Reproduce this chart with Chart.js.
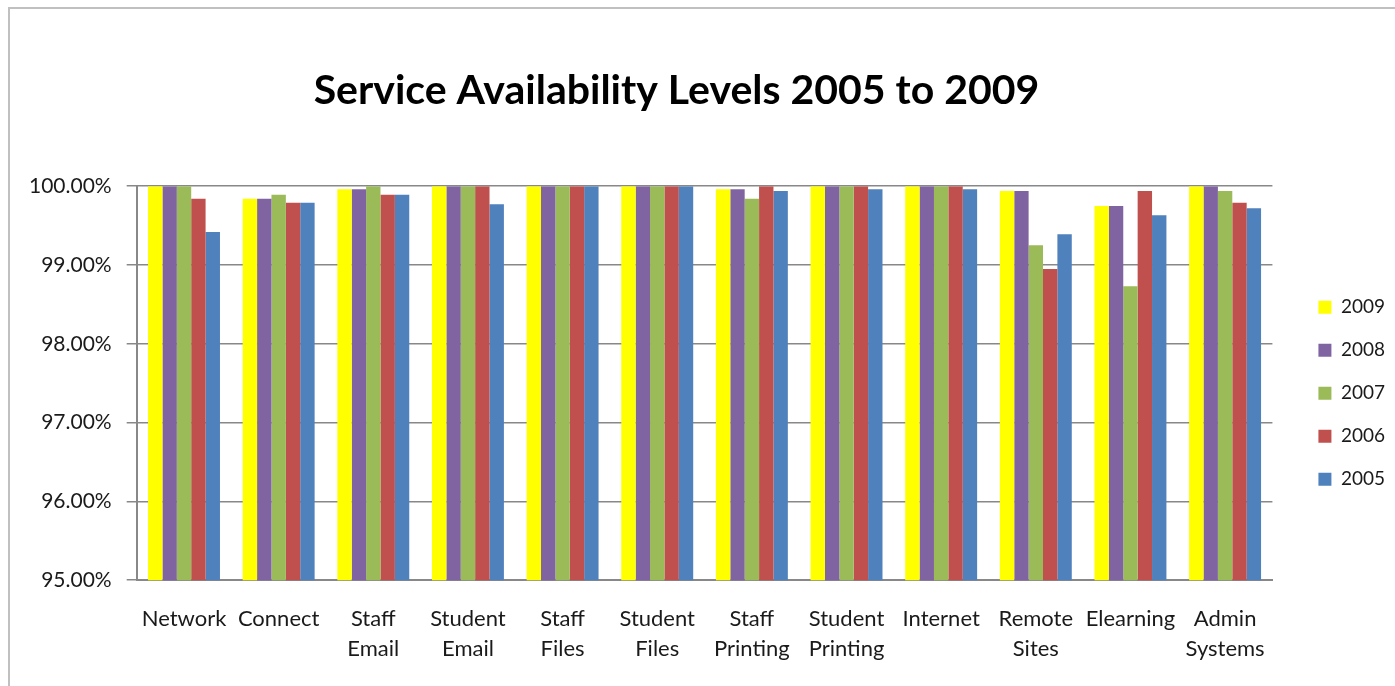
<!DOCTYPE html>
<html>
<head>
<meta charset="utf-8">
<script src="https://cdn.jsdelivr.net/npm/chart.js@4.4.1/dist/chart.umd.min.js"></script>
<style>
  html, body { margin: 0; padding: 0; background: #ffffff; }
  body { width: 1395px; height: 686px; position: relative; overflow: hidden; }
  #frame { position: absolute; left: 8px; top: 7px; width: 1400px; height: 700px;
           border-top: 2px solid #c0c0c0; border-left: 2px solid #c0c0c0; }
  #wrap { position: absolute; left: 0; top: 0; width: 1395px; height: 686px; }
</style>
</head>
<body>
<div id="frame"></div>
<div id="wrap"><canvas id="chart"></canvas></div>
<script>
const categories = ["Network", "Connect", ["Staff", "Email"], ["Student", "Email"], ["Staff", "Files"],
  ["Student", "Files"], ["Staff", "Printing"], ["Student", "Printing"], "Internet",
  ["Remote", "Sites"], "Elearning", ["Admin", "Systems"]];
const seriesNames = ["2009", "2008", "2007", "2006", "2005"];
const values2009 = [100.00, 99.84, 99.96, 100.00, 100.00, 100.00, 99.96, 100.00, 100.00, 99.94, 99.75, 100.00];
const values2008 = [100.00, 99.84, 99.96, 100.00, 100.00, 100.00, 99.96, 100.00, 100.00, 99.94, 99.75, 100.00];
const values2007 = [100.00, 99.89, 100.00, 100.00, 100.00, 100.00, 99.84, 100.00, 100.00, 99.25, 98.73, 99.94];
const values2006 = [99.84, 99.79, 99.89, 100.00, 100.00, 100.00, 100.00, 100.00, 100.00, 98.95, 99.94, 99.79];
const values2005 = [99.42, 99.79, 99.89, 99.77, 100.00, 100.00, 99.94, 99.96, 99.96, 99.39, 99.63, 99.72];
const yTicks = [95, 96, 97, 98, 99, 100];
const titleText = "Service Availability Levels 2005 to 2009";

const seriesValues = [values2009, values2008, values2007, values2006, values2005];
const seriesColors = ["#FFFF00", "#8064A2", "#9BBB59", "#C0504D", "#4F81BD"];

const nudge = {
  id: 'nudge',
  afterLayout(chart) {
    const t = chart.titleBlock;
    if (t) { t.left -= 17; t.right -= 17; }
    const l = chart.legend;
    if (l) { l.left += 22; l.right += 22; l.top += 10; l.bottom += 10; }
  }
};

const FONT = "Lato, 'Open Sans', sans-serif";

new Chart(document.getElementById('chart'), {
  type: 'bar',
  data: {
    labels: categories,
    datasets: seriesNames.map((name, i) => ({
      label: name,
      data: seriesValues[i],
      backgroundColor: seriesColors[i],
      borderWidth: 0,
      categoryPercentage: 0.76,
      barPercentage: 1.0
    }))
  },
  options: {
    responsive: true,
    maintainAspectRatio: false,
    animation: false,
    layout: { padding: { top: 0, left: 14, right: 22, bottom: -2 } },
    plugins: {
      title: {
        display: true,
        text: titleText,
        color: '#000000',
        font: { family: FONT, size: 41, weight: 'bold', lineHeight: 1.2 },
        padding: { top: 66, bottom: 71 }
      },
      legend: {
        display: true,
        position: 'right',
        align: 'center',
        fullSize: false,
        labels: {
          color: '#1a1a1a',
          font: { family: FONT, size: 19 },
          boxWidth: 13,
          boxHeight: 13,
          padding: 24
        }
      },
      tooltip: { enabled: false }
    },
    scales: {
      x: {
        grid: { display: false, drawTicks: false },
        border: { display: true, color: '#888888', width: 2 },
        ticks: {
          color: '#1a1a1a',
          font: { family: FONT, size: 22, lineHeight: 1.36 },
          padding: 24,
          maxRotation: 0,
          autoSkip: false
        }
      },
      y: {
        min: 95,
        max: 100,
        afterBuildTicks(axis) { axis.ticks = yTicks.map(v => ({ value: v })); },
        grid: { color: '#888888', lineWidth: 1.5, tickLength: 10, drawTicks: true },
        border: { display: true, color: '#888888', width: 2 },
        ticks: {
          color: '#1a1a1a',
          font: { family: FONT, size: 21 },
          padding: 15,
          callback: (v) => Number(v).toFixed(2) + '%'
        }
      }
    }
  },
  plugins: [nudge]
});
</script>
</body>
</html>
